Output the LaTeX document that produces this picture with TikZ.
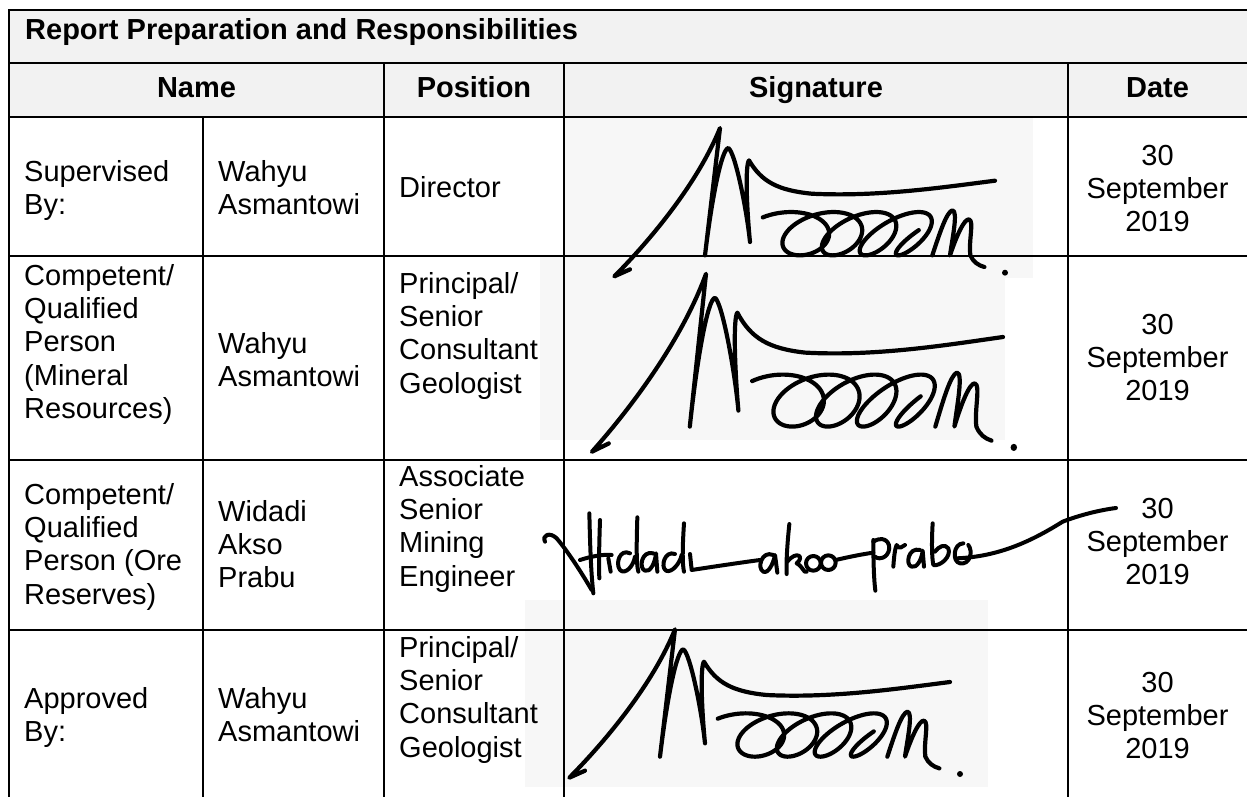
\documentclass[tikz,border=0pt]{standalone}
\usepackage{fontspec}
\setmainfont{Liberation Sans}
\newcommand\cellL[1]{\vtop{\halign{##\hfil\cr#1\crcr}}}
\newcommand\cellC[1]{\vtop{\halign{\hfil##\hfil\cr#1\crcr}}}
\definecolor{hdrgray}{HTML}{F2F2F2}
\definecolor{scan}{HTML}{F7F7F7}
\tikzset{
  txt/.style={inner sep=0pt, font=\fontsize{29}{33.4}\selectfont},
  lt/.style={txt, anchor=base west},
  ct/.style={txt, anchor=base},
  hd/.style={txt, font=\fontsize{29}{33.4}\selectfont\bfseries},
  rule/.style={line width=2.6pt, line cap=rect},
  pen/.style={line width=4.2pt, line cap=round, line join=round},
  finepen/.style={line width=4pt, line cap=round, line join=round},
}
\newcommand\msigstrokes{%
    \draw[pen] (555,512) -- (508,533)
      .. controls (620,420) and (760,250) .. (825,88)
      -- (780,470)
      .. controls (800,300) and (830,150) .. (850,148)
      .. controls (870,160) and (905,330) .. (915,430)
      .. controls (905,330) and (900,200) .. (912,185)
      .. controls (950,250) and (1000,275) .. (1100,285)
      .. controls (1300,295) and (1500,265) .. (1650,246);
    \draw[pen] plot[domain=0.85:25.3, samples=280]
      ({998.5+18*\x-(105-2.4*\x)*cos(\x r)+(0.12+0.036*\x)*65*sin(\x r)},{405-65*sin(\x r)});
    \draw[pen] (1462,470) .. controls (1485,400) and (1505,340) .. (1522,335)
      .. controls (1540,335) and (1522,420) .. (1515,470)
      .. controls (1535,410) and (1558,360) .. (1572,362)
      .. controls (1588,366) and (1570,430) .. (1576,470)
      .. controls (1585,490) and (1600,500) .. (1618,505);
    \fill (1680,522) circle (9);
}
\begin{document}
\begin{tikzpicture}[x=1pt,y=-1pt]
\useasboundingbox (0,0) rectangle (1247,797);
\begin{scope}
\clip (0,0) rectangle (1247,797);
% backgrounds
\fill[hdrgray] (9,10) rectangle (1250,117);
\fill[scan] (565,118) rectangle (1033,278);
\fill[scan] (540,257) rectangle (1005,440);
\fill[scan] (525,600) rectangle (988,787);
% title and headers
\node[hd, anchor=base west] (title) at (25,40) {Report Preparation and Responsibilities};
\node[hd, anchor=base] (hname) at (196.5,98) {Name};
\node[hd, anchor=base] (hpos) at (474,98) {Position};
\node[hd, anchor=base] (hsig) at (816,98) {Signature};
\node[hd, anchor=base] (hdate) at (1157.5,98) {Date};
% row 1
\node[lt] (r1role) at (24,181) {\cellL{Supervised\cr By:}};
\node[lt] (r1name) at (218,181) {\cellL{Wahyu\cr Asmantowi}};
\node[lt] (r1pos) at (399,197) {Director};
\node[ct] (r1date) at (1157.5,165) {\cellC{30\cr September\cr 2019}};
% row 2
\node[lt] (r2role) at (24,285) {\cellL{Competent/\cr Qualified\cr Person\cr (Mineral\cr Resources)}};
\node[lt] (r2name) at (218,353) {\cellL{Wahyu\cr Asmantowi}};
\node[lt] (r2pos) at (399,293) {\cellL{Principal/\cr Senior\cr Consultant\cr Geologist}};
\node[ct] (r2date) at (1157.5,334) {\cellC{30\cr September\cr 2019}};
% row 3
\node[lt] (r3role) at (24,504) {\cellL{Competent/\cr Qualified\cr Person (Ore\cr Reserves)}};
\node[lt] (r3name) at (218,521) {\cellL{Widadi\cr Akso\cr Prabu}};
\node[lt] (r3pos) at (399,486) {\cellL{Associate\cr Senior\cr Mining\cr Engineer}};
\node[ct] (r3date) at (1157.5,518) {\cellC{30\cr September\cr 2019}};
% row 4
\node[lt] (r4role) at (24,708) {\cellL{Approved\cr By:}};
\node[lt] (r4name) at (218,708) {\cellL{Wahyu\cr Asmantowi}};
\node[lt] (r4pos) at (399,657) {\cellL{Principal/\cr Senior\cr Consultant\cr Geologist}};
\node[ct] (r4date) at (1157.5,692) {\cellC{30\cr September\cr 2019}};
% signatures (M type)
\begin{scope}[shift={(445,98.7)}, scale=1/3] \msigstrokes \end{scope}
\begin{scope}[shift={(409,238.6)}, xscale=0.36, yscale=0.4] \msigstrokes \end{scope}
\begin{scope}[shift={(400,600)}, scale=1/3] \msigstrokes \end{scope}
% signature row 3
\begin{scope}[shift={(540,430)}, scale=1/3]
  \draw[finepen] (15,335) .. controls (5,315) and (30,305) .. (50,325) .. controls (80,360) and (120,420) .. (155,480);
  \draw[finepen] (148,250) .. controls (150,330) and (152,420) .. (160,490);
  \draw[finepen] (180,270) .. controls (178,330) and (176,400) .. (178,445);
  \draw[finepen] (120,390) .. controls (150,380) and (190,372) .. (215,375);
  \draw[finepen] (205,385) -- (212,425);
  \draw[finepen] (270,370) .. controls (240,355) and (225,400) .. (240,420) .. controls (255,435) and (280,410) .. (285,380);
  \draw[finepen] (292,262) .. controls (290,330) and (288,400) .. (295,425);
  \draw[finepen] (340,370) .. controls (305,360) and (295,415) .. (315,422) .. controls (330,428) and (345,400) .. (348,370) -- (352,425);
  \draw[finepen] (405,372) .. controls (375,360) and (360,410) .. (378,422) .. controls (395,430) and (420,400) .. (425,375);
  \draw[finepen] (432,280) .. controls (428,340) and (426,400) .. (432,425);
  \draw[finepen] (450,372) -- (455,420) .. controls (520,410) and (600,398) .. (660,390);
  \draw[finepen] (700,375) .. controls (665,360) and (650,415) .. (670,425) .. controls (685,432) and (700,400) .. (705,375) -- (712,428);
  \draw[finepen] (748,282) .. controls (742,340) and (738,400) .. (740,432);
  \draw[finepen] (742,395) .. controls (770,360) and (795,380) .. (770,400) .. controls (790,410) and (790,430) .. (800,425);
  \draw[finepen] (820,400) circle (22);
  \draw[finepen] (865,398) circle (22);
  \draw[finepen] (887,390) .. controls (930,380) and (970,372) .. (1000,368);
  \draw[finepen] (1000,330) .. controls (1000,400) and (1002,450) .. (1006,482);
  \draw[finepen] (1000,335) .. controls (1040,310) and (1060,350) .. (1040,375) .. controls (1025,390) and (1010,385) .. (1005,380);
  \draw[finepen] (1060,410) .. controls (1062,380) and (1065,355) .. (1070,345) .. controls (1078,360) and (1085,350) .. (1095,345);
  \draw[finepen] (1140,360) .. controls (1105,350) and (1095,405) .. (1115,410) .. controls (1130,415) and (1145,390) .. (1148,362) -- (1152,410);
  \draw[finepen] (1178,280) .. controls (1175,330) and (1175,380) .. (1180,405) .. controls (1200,410) and (1235,380) .. (1225,355) .. controls (1215,340) and (1195,350) .. (1185,365);
  \draw[finepen] (1270,340) .. controls (1240,340) and (1235,395) .. (1260,400) .. controls (1290,405) and (1300,365) .. (1285,345);
  \draw[finepen] (1250,385) .. controls (1380,380) and (1480,330) .. (1568,275) .. controls (1620,255) and (1680,240) .. (1728,234);
\end{scope}
% table rules
\draw[rule] (1260,10) -- (9,10) -- (9,810);
\draw[rule] (9,63) -- (1260,63);
\draw[rule] (9,117) -- (1260,117);
\draw[rule] (9,256) -- (1260,256);
\draw[rule] (9,460) -- (1260,460);
\draw[rule] (9,630) -- (1260,630);
\draw[rule] (203,117) -- (203,810);
\draw[rule] (384,63) -- (384,810);
\draw[rule] (564,63) -- (564,810);
\draw[rule] (1068,63) -- (1068,810);
\end{scope}
\end{tikzpicture}
\end{document}
